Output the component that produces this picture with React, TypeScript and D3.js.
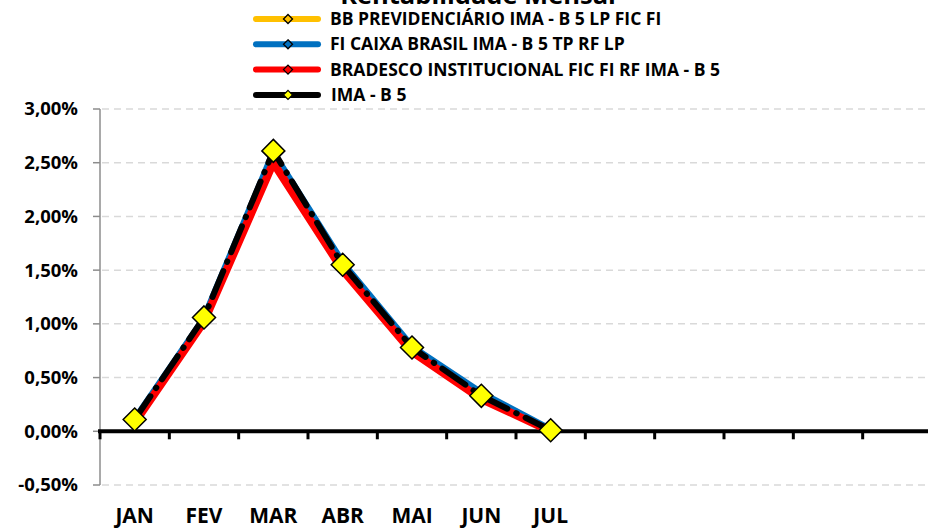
import * as d3 from 'd3'

const months = ['JAN', 'FEV', 'MAR', 'ABR', 'MAI', 'JUN', 'JUL', '', '', '', '', '']
const yTickValues = [-0.5, 0, 0.5, 1, 1.5, 2, 2.5, 3]

const bbPrev = [0.1, 1.04, 2.56, 1.53, 0.76, 0.32, 0.0]
const caixa = [0.1, 1.04, 2.58, 1.56, 0.78, 0.35, 0.01]
const bradesco = [0.08, 1.02, 2.5, 1.5, 0.74, 0.3, 0.0]
const imaB5 = [0.11, 1.06, 2.61, 1.55, 0.78, 0.33, 0.01]

const seriesNames = [
  'BB PREVIDENCIÁRIO IMA - B 5 LP FIC FI',
  'FI CAIXA BRASIL IMA - B 5 TP RF LP',
  'BRADESCO INSTITUCIONAL FIC FI RF IMA - B 5',
  'IMA - B 5',
]

const width = 928
const height = 529
const font = '"Open Sans", "DejaVu Sans", sans-serif'

export default function App() {
  const series = [
    { name: seriesNames[0], values: bbPrev, color: '#ffc000', width: 7, dash: undefined, marker: '#ffc000' },
    { name: seriesNames[1], values: caixa, color: '#0070c0', width: 8, dash: undefined, marker: '#0070c0' },
    { name: seriesNames[2], values: bradesco, color: '#ff0000', width: 8, dash: undefined, marker: '#ff0000' },
    { name: seriesNames[3], values: imaB5, color: '#000000', width: 6, dash: '28 10 0.5 10', marker: '#ffff00' },
  ]

  const x = d3.scaleBand<number>().domain(d3.range(months.length)).range([100, 932])
  const y = d3.scaleLinear().domain([-0.5, 3]).range([485, 109])
  const cx = (i: number) => x(i)! + x.bandwidth() / 2

  const line = d3
    .line<number>()
    .x((_, i) => cx(i))
    .y((d) => y(d))

  const diamond = (px: number, py: number, r: number) =>
    `M${px},${py - r}L${px + r},${py}L${px},${py + r}L${px - r},${py}Z`

  const fmt = (v: number) => v.toFixed(2).replace('.', ',') + '%'

  return (
    <>
      <style>{'body{margin:0}'}</style>
      <svg width={width} height={height} style={{ display: 'block' }} fontFamily={font} fontWeight="bold">
        <rect width={width} height={height} fill="#fff" />
        <text x={478} y={4} textAnchor="middle" fontSize={25.5}>
          Rentabilidade Mensal
        </text>

        {/* grid */}
        <g stroke="#d9d9d9" strokeWidth={1.5} strokeDasharray="7 5">
          {yTickValues.map((t) => (
            <line key={t} x1={102} x2={width} y1={y(t)} y2={y(t)} />
          ))}
        </g>

        {/* y axis */}
        <g>
          <line x1={100} x2={100} y1={y(3)} y2={y(-0.5)} stroke="#8c8c8c" strokeWidth={1.5} />
          {yTickValues.map((t) => (
            <g key={t} transform={`translate(0,${y(t)})`}>
              <line x1={93} x2={100} stroke="#8c8c8c" strokeWidth={1.5} />
              <text x={78} dy="0.35em" textAnchor="end" fontSize={18.5}>
                {fmt(t)}
              </text>
            </g>
          ))}
        </g>

        {/* x axis at zero */}
        <g>
          <line x1={98} x2={width} y1={y(0)} y2={y(0)} stroke="#000" strokeWidth={4} />
          {d3.range(months.length + 1).map((i) => {
            const px = i < months.length ? x(i)! : x(months.length - 1)! + x.bandwidth()
            return <line key={i} x1={px} x2={px} y1={y(0)} y2={y(0) + 8} stroke="#000" strokeWidth={3} />
          })}
          {months.map((m, i) => (
            <text key={i} x={cx(i)} y={523} textAnchor="middle" fontSize={21}>
              {m}
            </text>
          ))}
        </g>

        {/* series */}
        {series.map((s) => (
          <path
            key={s.name}
            d={line(s.values)!}
            fill="none"
            stroke={s.color}
            strokeWidth={s.width}
            strokeDasharray={s.dash}
            strokeLinecap="round"
            strokeLinejoin="round"
          />
        ))}
        {imaB5.map((v, i) => (
          <path key={i} d={diamond(cx(i), y(v), 11.5)} fill="#ffff00" stroke="#000" strokeWidth={1.5} />
        ))}

        {/* legend */}
        {series.map((s, i) => {
          const ly = 19 + i * 25.3
          return (
            <g key={s.name} transform={`translate(0,${ly})`}>
              <line x1={256} x2={318} stroke={s.color} strokeWidth={6} strokeLinecap="round" />
              <path d={diamond(288, 0, 4.5)} fill={s.marker} stroke="#000" strokeWidth={1.3} />
              <text x={i === 3 ? 331 : 330} dy="0.35em" fontSize={17.5}>
                {s.name}
              </text>
            </g>
          )
        })}
      </svg>
    </>
  )
}
